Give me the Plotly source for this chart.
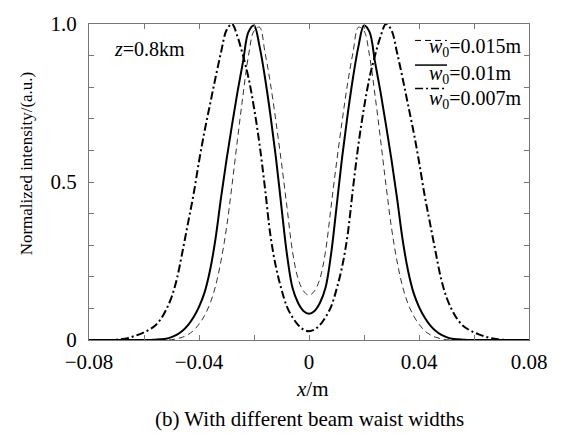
import plotly.graph_objects as go

# Sample positions (m), every 0.002 m from -0.08 to 0.08
x_vals = [round(-0.08 + 0.002 * i, 3) for i in range(81)]

# Normalized intensity at each sample position
y_w015 = [0, 0, 0, 0, 0, 0, 0, 0, 0, 0, 0, 0, 0, 0, 0,
          0.001, 0.004, 0.009, 0.017, 0.03, 0.05, 0.077, 0.115, 0.17, 0.25, 0.355, 0.49, 0.635, 0.775, 0.90,
          0.978, 0.99, 0.91, 0.81, 0.69, 0.56, 0.42, 0.28, 0.195, 0.155,
          0.142,
          0.155, 0.195, 0.28, 0.42, 0.56, 0.69, 0.81, 0.91, 0.99, 0.978,
          0.90, 0.775, 0.635, 0.49, 0.355, 0.25, 0.17, 0.115, 0.077, 0.05, 0.03, 0.017, 0.009, 0.004, 0.001,
          0, 0, 0, 0, 0, 0, 0, 0, 0, 0, 0, 0, 0, 0, 0]

y_w010 = [0, 0, 0, 0, 0, 0, 0, 0, 0, 0, 0, 0,
          0.001, 0.002, 0.004, 0.009, 0.017, 0.029, 0.047, 0.072, 0.105, 0.15, 0.22, 0.32, 0.45, 0.57, 0.68,
          0.785, 0.88, 0.975, 0.995, 0.93, 0.83, 0.71, 0.575, 0.42, 0.27, 0.165, 0.118, 0.092,
          0.083,
          0.092, 0.118, 0.165, 0.27, 0.42, 0.575, 0.71, 0.83, 0.93, 0.995, 0.975, 0.88, 0.785,
          0.68, 0.57, 0.45, 0.32, 0.22, 0.15, 0.105, 0.072, 0.047, 0.029, 0.017, 0.009, 0.004, 0.002, 0.001,
          0, 0, 0, 0, 0, 0, 0, 0, 0, 0, 0, 0]

y_w007 = [0, 0, 0, 0, 0,
          0.001, 0.003, 0.006, 0.011, 0.017, 0.024, 0.033, 0.045, 0.065, 0.095, 0.135, 0.195, 0.28, 0.37, 0.46,
          0.565, 0.66, 0.745, 0.83, 0.91, 0.98, 1.0, 0.96, 0.90, 0.83, 0.735, 0.62, 0.48, 0.33, 0.23, 0.16,
          0.105, 0.072, 0.048, 0.033,
          0.028,
          0.033, 0.048, 0.072, 0.105, 0.16, 0.23, 0.33, 0.48, 0.62, 0.735, 0.83, 0.90, 0.96, 1.0, 0.98, 0.91,
          0.83, 0.745, 0.66, 0.565, 0.46, 0.37, 0.28, 0.195, 0.135, 0.095, 0.065, 0.045, 0.033, 0.024, 0.017,
          0.011, 0.006, 0.003, 0.001,
          0, 0, 0, 0, 0]

x_tickvals = [-0.08, -0.04, 0, 0.04, 0.08]
x_ticktext = ["\u22120.08", "\u22120.04", "0", "0.04", "0.08"]
y_tickvals = [0, 0.5, 1.0]
y_ticktext = ["0", "0.5", "1.0"]

legend_labels = ["<i>w</i><sub>0</sub>=0.015m", "<i>w</i><sub>0</sub>=0.01m", "<i>w</i><sub>0</sub>=0.007m"]

FONT = "Liberation Serif"
DASH = "6px,4px"
DASHDOT = "8px,3px,2px,3px"

fig = go.Figure()
fig.add_trace(go.Scatter(x=x_vals, y=y_w015, mode="lines",
                         line=dict(color="#333", width=1, dash=DASH, shape="spline", smoothing=1)))
fig.add_trace(go.Scatter(x=x_vals, y=y_w010, mode="lines",
                         line=dict(color="black", width=2, shape="spline", smoothing=1)))
fig.add_trace(go.Scatter(x=x_vals, y=y_w007, mode="lines",
                         line=dict(color="black", width=2, dash=DASHDOT, shape="spline", smoothing=1)))

axis_common = dict(showgrid=False, zeroline=False, showline=True, linecolor="#777", linewidth=1,
                   mirror="ticks", ticks="inside", ticklen=5, tickcolor="#777",
                   tickfont=dict(family=FONT, size=21, color="black"))

fig.update_xaxes(range=[-0.08, 0.08], tickvals=x_tickvals, ticktext=x_ticktext, ticklabelstandoff=3,
                 minor=dict(dtick=0.02, tick0=0, ticks="inside", ticklen=5, tickcolor="#777"), **axis_common)
fig.update_yaxes(range=[0, 1.0], tickvals=y_tickvals, ticktext=y_ticktext, ticklabelstandoff=7,
                 minor=dict(dtick=0.1, tick0=0, ticks="inside", ticklen=5, tickcolor="#777"), **axis_common)

annotations = [
    dict(text="<i>z</i>=0.8km", x=0.052, y=0.920, xref="paper", yref="paper", xanchor="left", yanchor="middle",
         showarrow=False, font=dict(family=FONT, size=20, color="black")),
    dict(text="<i>x</i>/m", x=0.507, y=-0.154, xref="paper", yref="paper", xanchor="center", yanchor="middle",
         showarrow=False, font=dict(family=FONT, size=21, color="black")),
    dict(text="(b) With different beam waist widths", x=0.502, y=-0.25, xref="paper", yref="paper",
         xanchor="center", yanchor="middle", showarrow=False, font=dict(family=FONT, size=21, color="black")),
    dict(text="Normalized intensity/(a.u.)", x=0, y=0.559, xref="paper", yref="paper", xshift=-63,
         xanchor="center", yanchor="middle", textangle=-90, showarrow=False,
         font=dict(family=FONT, size=17, color="black")),
]
leg_text_y = [0.926, 0.840, 0.762]
leg_line_y = [0.948, 0.870, 0.796]
dashes = [DASH, "solid", DASHDOT]
widths = [1, 1.5, 1.5]
for lab, ty in zip(legend_labels, leg_text_y):
    annotations.append(dict(text=lab, x=0.768, y=ty, xref="paper", yref="paper", xanchor="left", yanchor="middle",
                            showarrow=False, font=dict(family=FONT, size=20, color="black")))
shapes = []
for ly, d, w in zip(leg_line_y, dashes, widths):
    shapes.append(dict(type="line", xref="paper", yref="paper", x0=0.741, x1=0.8136, y0=ly, y1=ly,
                       line=dict(color="black", width=w, dash=d)))

fig.update_layout(width=561, height=437, margin=dict(l=89, r=32, t=16, b=97),
                  plot_bgcolor="white", paper_bgcolor="white", showlegend=False,
                  annotations=annotations, shapes=shapes)

fig.write_html("out.html")
